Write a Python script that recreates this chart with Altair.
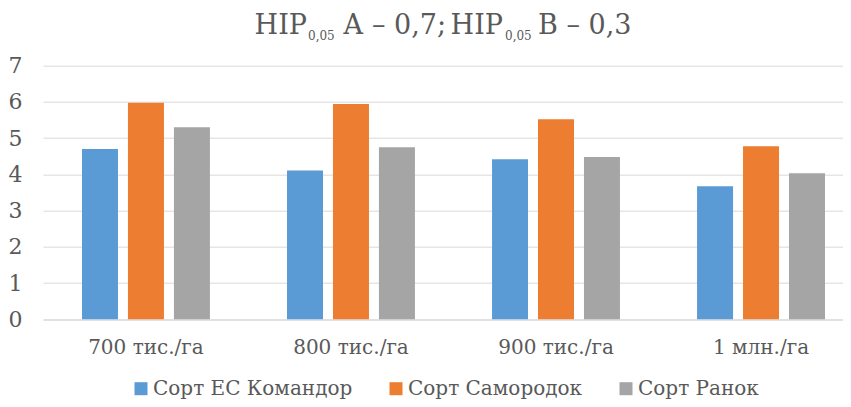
import altair as alt
import pandas as pd

categories = ["700 тис./га", "800 тис./га", "900 тис./га", "1 млн./га"]
series = ["Сорт ЕС Командор", "Сорт Самородок", "Сорт Ранок"]
komandor = [4.70, 4.11, 4.42, 3.67]
samorodok = [5.98, 5.94, 5.52, 4.78]
ranok = [5.30, 4.75, 4.48, 4.03]
colors = ["#5B9BD5", "#ED7D31", "#A5A5A5"]
y_ticks = [0, 1, 2, 3, 4, 5, 6, 7]

rows = []
for s, vals in zip(series, [komandor, samorodok, ranok]):
    for c, v in zip(categories, vals):
        rows.append({"density": c, "variety": s, "value": v})
df = pd.DataFrame(rows)

FONT = "DejaVu Serif"
TXT = "#595959"
GRID = "#D9D9D9"

bars = alt.Chart(df).mark_bar().encode(
    x=alt.X(
        "density:N",
        sort=categories,
        scale=alt.Scale(paddingInner=0.376, paddingOuter=0.139, align=0.684),
        axis=alt.Axis(
            title=None, labelAngle=0, labelFontSize=20, labelFont=FONT,
            labelColor=TXT, labelPadding=18, ticks=False,
            domainColor=GRID, domainWidth=1, grid=False, labelLimit=0,
        ),
    ),
    xOffset=alt.XOffset(
        "variety:N", sort=series,
        scale=alt.Scale(paddingInner=0.217, paddingOuter=0),
    ),
    y=alt.Y(
        "value:Q",
        scale=alt.Scale(domain=[0, 7], nice=False),
        axis=alt.Axis(
            title=None, values=y_ticks, labelFontSize=22, labelFont=FONT,
            labelColor=TXT, labelPadding=21, ticks=False, domain=False,
            gridColor=GRID, gridWidth=1,
        ),
    ),
    color=alt.Color(
        "variety:N", sort=series,
        scale=alt.Scale(domain=series, range=colors),
        legend=alt.Legend(
            title=None, orient="none", legendX=88, legendY=313,
            direction="horizontal", symbolType="square", symbolSize=169,
            symbolStrokeWidth=0, labelFontSize=20, labelFont=FONT,
            labelColor=TXT, labelOffset=2, columnPadding=33, padding=0,
            labelLimit=0,
        ),
    ),
)

one = pd.DataFrame({"k": [0]})


def piece(text, x, y, size, align="left"):
    return alt.Chart(one).mark_text(
        align=align, baseline="alphabetic", font=FONT, fontSize=size, color=TXT
    ).encode(x=alt.value(x), y=alt.value(y), text=alt.value(text))


MAIN_Y = -31.7
SUB_Y = -25.5
title_layers = [
    piece("НІР", 264, MAIN_Y, 27, "right"),
    piece("0,05", 265, SUB_Y, 12),
    piece("А – 0,7;", 300, MAIN_Y, 27),
    piece("НІР", 460, MAIN_Y, 27, "right"),
    piece("0,05", 462, SUB_Y, 12),
    piece("В – 0,3", 495, MAIN_Y, 27),
]

chart = alt.layer(bars, *title_layers).properties(
    width=800,
    height=253.6,
    padding={"left": 35, "top": 57.7, "right": 0, "bottom": 79.7},
    autosize=alt.AutoSizeParams(type="none"),
).configure_view(stroke=None)

chart.save("out.html", embed_options={"renderer": "svg", "actions": False})
